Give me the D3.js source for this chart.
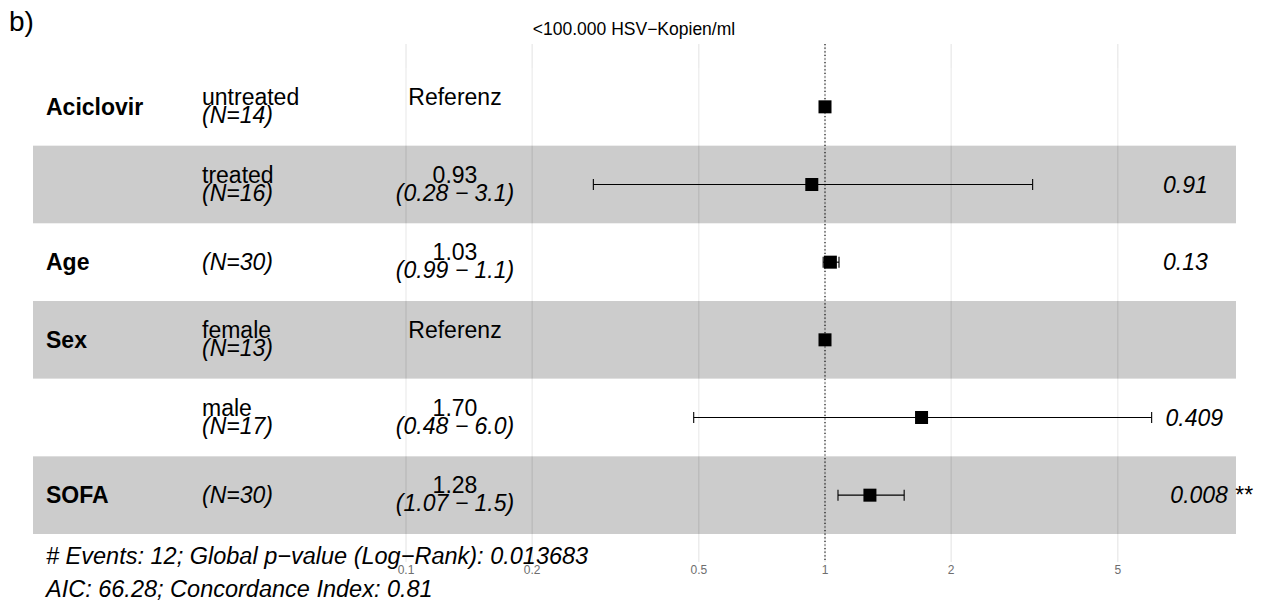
<!DOCTYPE html>
<html>
<head>
<meta charset="utf-8">
<script src="https://cdn.jsdelivr.net/npm/d3@7"></script>
<style>
  body { margin: 0; background: #fff; }
  svg { font-family: "Liberation Sans", Arial, Helvetica, sans-serif; }
</style>
</head>
<body>
<svg id="drawing_region"></svg>
<script>
const variables = ["Aciclovir", "", "Age", "Sex", "", "SOFA"];
const levels = ["untreated", "treated", "", "female", "male", ""];
const nLabels = ["(N=14)", "(N=16)", "(N=30)", "(N=13)", "(N=17)", "(N=30)"];
const estimates = [1, 0.93, 1.03, 1, 1.70, 1.28];
const ciLow = [null, 0.28, 0.99, null, 0.486, 1.074];
const ciHigh = [null, 3.13, 1.08, null, 6.02, 1.545];
const estLabels = ["Referenz", "0.93", "1.03", "Referenz", "1.70", "1.28"];
const ciLabels = ["", "(0.28 \u2212 3.1)", "(0.99 \u2212 1.1)", "", "(0.48 \u2212 6.0)", "(1.07 \u2212 1.5)"];
const pLabels = ["", "0.91", "0.13", "", "0.409", "0.008 **"];
const tickValues = [0.1, 0.2, 0.5, 1, 2, 5];
const tickLabels = ["0.1", "0.2", "0.5", "1", "2", "5"];

const title = "<100.000 HSV\u2212Kopien/ml";
const footer1 = "# Events: 12; Global p\u2212value (Log\u2212Rank): 0.013683";
const footer2 = "AIC: 66.28; Concordance Index: 0.81";

const rows = variables.map((v, i) => ({
    idx: i, variable: v, level: levels[i], n: nLabels[i],
    est: estimates[i], low: ciLow[i], high: ciHigh[i],
    estLabel: estLabels[i], ciLabel: ciLabels[i], p: pLabels[i]
}));

const width = 1265, height = 601;
const fontSize = 23;

const svg = d3.select('#drawing_region')
    .attr('width', width)
    .attr('height', height);

const xscale = d3.scaleLog()
    .domain([0.1, 10])
    .range([406, 1244]);

const yscale = d3.scaleBand()
    .domain(d3.range(rows.length))
    .range([68, 534])
    .padding(0);

const panelTop = 44, panelBottom = 562;
const bandLeft = 33, bandRight = 1236;
const cy = i => yscale(i) + yscale.bandwidth() / 2;

// grid lines
svg.append('g')
    .selectAll('line')
    .data(tickValues)
    .join('line')
    .attr('x1', d => xscale(d))
    .attr('x2', d => xscale(d))
    .attr('y1', panelTop)
    .attr('y2', panelBottom)
    .attr('stroke', '#e2e2e2')
    .attr('stroke-width', 1);

// zebra bands
svg.append('g')
    .selectAll('rect')
    .data(rows)
    .join('rect')
    .attr('x', bandLeft)
    .attr('width', bandRight - bandLeft)
    .attr('y', d => yscale(d.idx))
    .attr('height', yscale.bandwidth())
    .attr('fill', d => d.idx % 2 === 1 ? '#000000' : '#ffffff')
    .attr('fill-opacity', 0.2);

// reference line at HR = 1
svg.append('line')
    .attr('x1', xscale(1))
    .attr('x2', xscale(1))
    .attr('y1', panelTop)
    .attr('y2', panelBottom)
    .attr('stroke', '#000')
    .attr('stroke-width', 1.1)
    .attr('stroke-dasharray', '1.2,2.4');

// tick labels
svg.append('g')
    .selectAll('text')
    .data(tickValues)
    .join('text')
    .attr('x', d => xscale(d))
    .attr('y', 574)
    .attr('text-anchor', 'middle')
    .attr('font-size', '12px')
    .attr('fill', '#6e6e6e')
    .text((d, i) => tickLabels[i]);

// error bars
const ci = rows.filter(d => d.low !== null);
const capH = 5.5;
const eb = svg.append('g').attr('stroke', '#000').attr('stroke-width', 1.1);
eb.selectAll('.ci')
    .data(ci)
    .join('line')
    .attr('x1', d => xscale(d.low))
    .attr('x2', d => xscale(d.high))
    .attr('y1', d => cy(d.idx))
    .attr('y2', d => cy(d.idx));
eb.selectAll('.capl')
    .data(ci)
    .join('line')
    .attr('class', 'capl')
    .attr('x1', d => xscale(d.low))
    .attr('x2', d => xscale(d.low))
    .attr('y1', d => cy(d.idx) - capH)
    .attr('y2', d => cy(d.idx) + capH);
eb.selectAll('.caph')
    .data(ci)
    .join('line')
    .attr('class', 'caph')
    .attr('x1', d => xscale(d.high))
    .attr('x2', d => xscale(d.high))
    .attr('y1', d => cy(d.idx) - capH)
    .attr('y2', d => cy(d.idx) + capH);

// points
const sq = 13;
svg.append('g')
    .selectAll('rect')
    .data(rows)
    .join('rect')
    .attr('x', d => xscale(d.est) - sq / 2)
    .attr('y', d => cy(d.idx) - sq / 2)
    .attr('width', sq)
    .attr('height', sq)
    .attr('fill', '#000');

// annotation columns
const ann = svg.append('g').attr('font-size', fontSize + 'px').attr('fill', '#000');

ann.selectAll('.var')
    .data(rows.filter(d => d.variable !== ''))
    .join('text')
    .attr('x', 46)
    .attr('y', d => cy(d.idx) + 8)
    .attr('font-weight', 'bold')
    .text(d => d.variable);

ann.selectAll('.lvl')
    .data(rows.filter(d => d.level !== ''))
    .join('text')
    .attr('x', 202)
    .attr('y', d => cy(d.idx) - 2)
    .text(d => d.level);

ann.selectAll('.n')
    .data(rows)
    .join('text')
    .attr('x', 202)
    .attr('y', d => d.level === '' ? cy(d.idx) + 8 : cy(d.idx) + 16)
    .attr('font-style', 'italic')
    .text(d => d.n);

ann.selectAll('.est')
    .data(rows)
    .join('text')
    .attr('x', 455)
    .attr('y', d => cy(d.idx) - 2)
    .attr('text-anchor', 'middle')
    .text(d => d.estLabel);

ann.selectAll('.cilab')
    .data(rows.filter(d => d.ciLabel !== ''))
    .join('text')
    .attr('x', 455)
    .attr('y', d => cy(d.idx) + 16)
    .attr('text-anchor', 'middle')
    .attr('font-style', 'italic')
    .text(d => d.ciLabel);

// p-values, hjust = -0.2
ann.selectAll('.p')
    .data(rows.filter(d => d.p !== ''))
    .join('text')
    .attr('y', d => cy(d.idx) + 8)
    .attr('font-style', 'italic')
    .text(d => d.p)
    .attr('x', function() { return 1154 + 0.2 * this.getComputedTextLength(); });

// title, panel tag, footer
svg.append('text')
    .attr('x', 634)
    .attr('y', 35)
    .attr('text-anchor', 'middle')
    .attr('font-size', '17.5px')
    .text(title);

svg.append('text')
    .attr('x', 9)
    .attr('y', 31)
    .attr('font-size', '28px')
    .text('b)');

svg.append('text')
    .attr('x', 46)
    .attr('y', 564)
    .attr('font-size', '23.5px')
    .attr('font-style', 'italic')
    .text(footer1);

svg.append('text')
    .attr('x', 46)
    .attr('y', 597)
    .attr('font-size', '23.5px')
    .attr('font-style', 'italic')
    .text(footer2);
</script>
</body>
</html>
